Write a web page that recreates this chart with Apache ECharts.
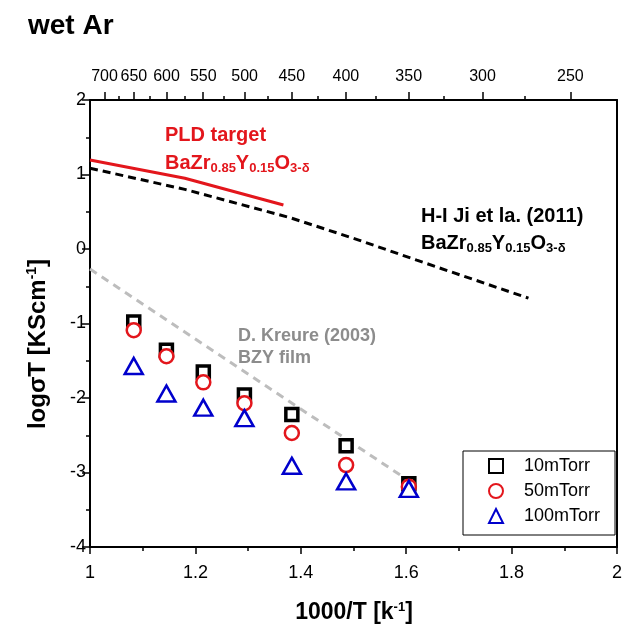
<!DOCTYPE html>
<html>
<head>
<meta charset="utf-8">
<script src="https://cdn.jsdelivr.net/npm/echarts@6/dist/echarts.min.js"></script>
<style>html,body{margin:0;padding:0;background:#fff}#c{width:637px;height:635px}</style>
</head>
<body>
<div id="c"></div>
<script>
// ---- data ----
const xPoints = [1.083, 1.145, 1.215, 1.293, 1.383, 1.486, 1.605];
const y10mTorr = [-0.98, -1.36, -1.65, -1.96, -2.22, -2.64, -3.15];
const y50mTorr = [-1.09, -1.44, -1.79, -2.07, -2.47, -2.90, -3.19];
const y100mTorr = [-1.57, -1.94, -2.13, -2.27, -2.91, -3.12, -3.22];

const jiX = [1.0, 1.18, 1.38, 1.51, 1.62, 1.832];
const jiY = [1.085, 0.80, 0.42, 0.12, -0.15, -0.66];
const pldX = [1.0, 1.18, 1.367];
const pldY = [1.195, 0.95, 0.59];
const kreuerX = [1.0, 1.605];
const kreuerY = [-0.27, -3.11];

const topMajorTemps = [700, 650, 600, 550, 500, 450, 400, 350, 300, 250];
const topMinorTemps = [675, 625, 575, 525, 475, 425, 375, 325, 275];
const seriesNames = ['10mTorr', '50mTorr', '100mTorr'];

// ---- helpers ----
const toInvT = t => 1000 / (t + 273.15);
const zip = (xs, ys) => xs.map((x, i) => [x, ys[i]]);
const FONT = 'Liberation Sans, Arial, Helvetica, sans-serif';
const majorPos = topMajorTemps.map(toInvT);
const minorPos = topMinorTemps.map(toInvT);

const chart = echarts.init(document.getElementById('c'));
const axisLineStyle = { color: '#000', width: 2 };
const RED = '#e3161c';

function formulaRich(color) {
  return {
    m: { fontFamily: FONT, fontWeight: 'bold', fontSize: 20, lineHeight: 22, fill: color, color: color },
    s: { fontFamily: FONT, fontWeight: 'bold', fontSize: 13, lineHeight: 13, padding: [11, 0, 0, 0], fill: color, color: color }
  };
}

const option = {
  backgroundColor: '#fff',
  animation: false,
  title: {
    text: 'wet Ar', left: 23, top: 7,
    textStyle: { fontFamily: FONT, fontSize: 28, fontWeight: 'bold', color: '#000' }
  },
  grid: { left: 90, top: 100, width: 527, height: 447 },
  legend: {
    orient: 'vertical', left: 463, top: 451,
    data: seriesNames,
    itemWidth: 14, itemHeight: 14, itemGap: 7,
    padding: [6, 15, 10, 25],
    borderColor: '#000', borderWidth: 1,
    textStyle: { fontFamily: FONT, fontSize: 18, color: '#000', padding: [0, 0, 0, 16] }
  },
  xAxis: [
    {
      type: 'value', position: 'bottom', min: 1, max: 2, interval: 0.2,
      axisLine: { onZero: false, lineStyle: axisLineStyle },
      axisTick: { length: 7, lineStyle: { color: '#000', width: 1.5 } },
      minorTick: { show: true, splitNumber: 2, length: 4, lineStyle: { color: '#000', width: 1.5 } },
      splitLine: { show: false },
      axisLabel: { fontFamily: FONT, fontSize: 18, color: '#000', margin: 17 }
    },
    {
      type: 'value', position: 'top', min: 1, max: 2,
      axisLine: { onZero: false, lineStyle: axisLineStyle },
      axisTick: { customValues: majorPos, length: 8, lineStyle: { color: '#000', width: 1.5 } },
      axisLabel: {
        customValues: majorPos, fontFamily: FONT, fontSize: 16, color: '#000', margin: 15,
        formatter: v => String(Math.round(1000 / v - 273.15))
      },
      splitLine: { show: false }
    },
    {
      type: 'value', position: 'top', min: 1, max: 2,
      axisLine: { show: false, onZero: false },
      axisTick: { customValues: minorPos, length: 4, lineStyle: { color: '#000', width: 1.5 } },
      axisLabel: { show: false },
      splitLine: { show: false }
    }
  ],
  yAxis: [
    {
      type: 'value', position: 'left', min: -4, max: 2, interval: 1,
      axisLine: { show: true, onZero: false, lineStyle: axisLineStyle },
      axisTick: { show: true, length: 8, lineStyle: { color: '#000', width: 1.5 } },
      minorTick: { show: true, splitNumber: 2, length: 4, lineStyle: { color: '#000', width: 1.5 } },
      splitLine: { show: false },
      axisLabel: { fontFamily: FONT, fontSize: 18, color: '#000', margin: 4 }
    },
    {
      type: 'value', position: 'right', min: -4, max: 2,
      axisLine: { show: true, onZero: false, lineStyle: axisLineStyle },
      axisTick: { show: false }, axisLabel: { show: false }, splitLine: { show: false }
    }
  ],
  series: [
    {
      name: 'Kreuer', type: 'line', data: zip(kreuerX, kreuerY), showSymbol: false,
      lineStyle: { color: '#bdbdbd', width: 3, type: [8, 6] }, z: 1
    },
    {
      name: 'Ji', type: 'line', data: zip(jiX, jiY), showSymbol: false,
      lineStyle: { color: '#000', width: 3, type: [8, 5] }, z: 1
    },
    {
      name: 'PLD', type: 'line', data: zip(pldX, pldY), showSymbol: false,
      lineStyle: { color: RED, width: 3 }, z: 2
    },
    {
      name: seriesNames[0], type: 'scatter', data: zip(xPoints, y10mTorr),
      symbol: 'rect', symbolSize: 12,
      itemStyle: { color: '#fff', borderColor: '#000', borderWidth: 3.5, opacity: 1 }, z: 3
    },
    {
      name: seriesNames[1], type: 'scatter', data: zip(xPoints, y50mTorr),
      symbol: 'circle', symbolSize: 14,
      itemStyle: { color: '#fff', borderColor: RED, borderWidth: 2.5, opacity: 1 }, z: 4
    },
    {
      name: seriesNames[2], type: 'scatter', data: zip(xPoints, y100mTorr),
      symbol: 'triangle', symbolSize: [18, 16],
      itemStyle: { color: '#fff', borderColor: '#0000cc', borderWidth: 2.5, opacity: 1 }, z: 5
    }
  ],
  graphic: [
    {
      type: 'text', x: 165, y: 135,
      style: { text: 'PLD target', fill: RED, font: 'bold 20px ' + FONT, verticalAlign: 'middle' }
    },
    {
      type: 'text', x: 165, y: 163,
      style: {
        text: '{m|BaZr}{s|0.85}{m|Y}{s|0.15}{m|O}{s|3-δ}', verticalAlign: 'middle', fill: RED,
        rich: formulaRich(RED)
      }
    },
    {
      type: 'text', x: 421, y: 216,
      style: { text: 'H-I Ji et la. (2011)', fill: '#000', font: 'bold 20px ' + FONT, verticalAlign: 'middle' }
    },
    {
      type: 'text', x: 421, y: 243,
      style: {
        text: '{m|BaZr}{s|0.85}{m|Y}{s|0.15}{m|O}{s|3-δ}', verticalAlign: 'middle', fill: '#000',
        rich: formulaRich('#000')
      }
    },
    {
      type: 'text', x: 238, y: 336,
      style: { text: 'D. Kreure (2003)', fill: '#8c8c8c', font: 'bold 18px ' + FONT, verticalAlign: 'middle' }
    },
    {
      type: 'text', x: 238, y: 358,
      style: { text: 'BZY film', fill: '#8c8c8c', font: 'bold 18px ' + FONT, verticalAlign: 'middle' }
    },
    {
      type: 'text', x: 354, y: 613,
      style: {
        text: '{m|1000/T [k}{p|-1}{m|]}', align: 'center', verticalAlign: 'middle', fill: '#000',
        rich: {
          m: { fontFamily: FONT, fontWeight: 'bold', fontSize: 23, lineHeight: 25, fill: '#000' },
          p: { fontFamily: FONT, fontWeight: 'bold', fontSize: 13, lineHeight: 13, padding: [0, 0, 12, 0], fill: '#000' }
        }
      }
    },
    {
      type: 'text', x: 38, y: 344, rotation: Math.PI / 2,
      style: {
        text: '{m|logσT [KScm}{p|-1}{m|]}', align: 'center', verticalAlign: 'middle', fill: '#000',
        rich: {
          m: { fontFamily: FONT, fontWeight: 'bold', fontSize: 24, lineHeight: 26, fill: '#000' },
          p: { fontFamily: FONT, fontWeight: 'bold', fontSize: 14, lineHeight: 14, padding: [0, 0, 12, 0], fill: '#000' }
        }
      }
    }
  ]
};
chart.setOption(option);
</script>
</body>
</html>
